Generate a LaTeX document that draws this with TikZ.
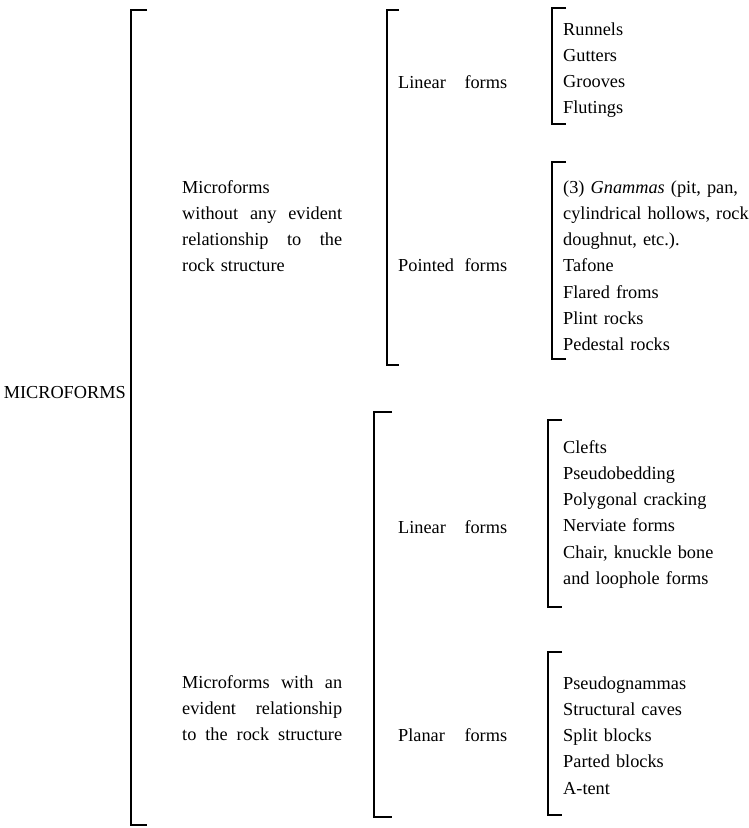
\documentclass[tikz,border=0pt]{standalone}
\usepackage{fontspec}
\setmainfont{Liberation Serif}
\usepackage{tikz}

% words spread over a given width
\newcommand{\spread}[2]{\makebox[#1][s]{#2}}

\begin{document}
\begin{tikzpicture}[
    x=1pt, y=-1pt,
    txt/.style={inner sep=0pt, anchor=base west, font=\fontsize{18.3}{26.3}\selectfont},
    group/.style={txt, text width=160pt, align=left},
    kind/.style={txt, text width=109pt, align=left},
    items/.style={txt, text width=186pt, align=left},
    brk/.style={line width=2.7pt, line cap=butt, line join=miter}
]
\useasboundingbox (0,0) rectangle (749,828);

% main bracket
\coordinate (mainT) at (131,10);
\coordinate (mainB) at (131,825);
\draw[brk] ([xshift=16pt]mainT) -- (mainT) -- (mainB) -- ([xshift=16pt]mainB);
\node[txt, anchor=base east] (micro) at (126,398) {MICROFORMS};

% no relationship to the structure
\coordinate (freeT) at (387,10);
\coordinate (freeB) at (387,365);
\draw[brk] ([xshift=12pt]freeT) -- (freeT) -- (freeB) -- ([xshift=12pt]freeB);
\node[group] (free) at (182,193) {Microforms\\
    \spread{160pt}{without\hfill any\hfill evident}\\
    \spread{160pt}{relationship\hfill to\hfill the}\\
    rock structure};

% structural microforms
\coordinate (strucT) at (374,412);
\coordinate (strucB) at (374,817);
\draw[brk] ([xshift=18pt]strucT) -- (strucT) -- (strucB) -- ([xshift=18pt]strucB);
\node[group] (struc) at (182,688) {\spread{160pt}{Microforms\hfill with\hfill an}\\
    \spread{160pt}{evident\hfill relationship}\\
    \spread{160pt}{to\hfill the\hfill rock\hfill structure}};

% kinds of form
\node[kind] (linA) at (398,88) {\spread{109pt}{Linear\hfill forms}};
\node[kind] (point) at (398,271) {\spread{109pt}{Pointed\hfill forms}};
\node[kind] (linB) at (398,533) {\spread{109pt}{Linear\hfill forms}};
\node[kind] (plan) at (398,741) {\spread{109pt}{Planar\hfill forms}};

% Linear forms (free)
\coordinate (linAT) at (552,8);
\coordinate (linAB) at (552,124);
\draw[brk] ([xshift=14pt]linAT) -- (linAT) -- (linAB) -- ([xshift=14pt]linAB);
\node[items] (linAlist) at (563,35) {Runnels\\Gutters\\Grooves\\Flutings};

% Pointed forms
\coordinate (pointT) at (552,162);
\coordinate (pointB) at (552,359);
\draw[brk] ([xshift=14pt]pointT) -- (pointT) -- (pointB) -- ([xshift=14pt]pointB);
\node[items] (pointlist) at (563,193) {(3) \textit{Gnammas} (pit, pan,\\
    cylindrical hollows, rock\\
    doughnut, etc.).\\
    Tafone\\
    Flared froms\\
    Plint rocks\\
    Pedestal rocks};

% Linear forms (structural)
\coordinate (linBT) at (548,420);
\coordinate (linBB) at (548,607);
\draw[brk] ([xshift=14pt]linBT) -- (linBT) -- (linBB) -- ([xshift=14pt]linBB);
\node[items] (linBlist) at (563,453) {Clefts\\
    Pseudobedding\\
    Polygonal cracking\\
    Nerviate forms\\
    Chair, knuckle bone\\
    and loophole forms};

% Planar forms
\coordinate (planT) at (548,652);
\coordinate (planB) at (548,815);
\draw[brk] ([xshift=14pt]planT) -- (planT) -- (planB) -- ([xshift=14pt]planB);
\node[items] (planlist) at (563,689) {Pseudognammas\\
    Structural caves\\
    Split blocks\\
    Parted blocks\\
    A-tent};

\end{tikzpicture}
\end{document}
